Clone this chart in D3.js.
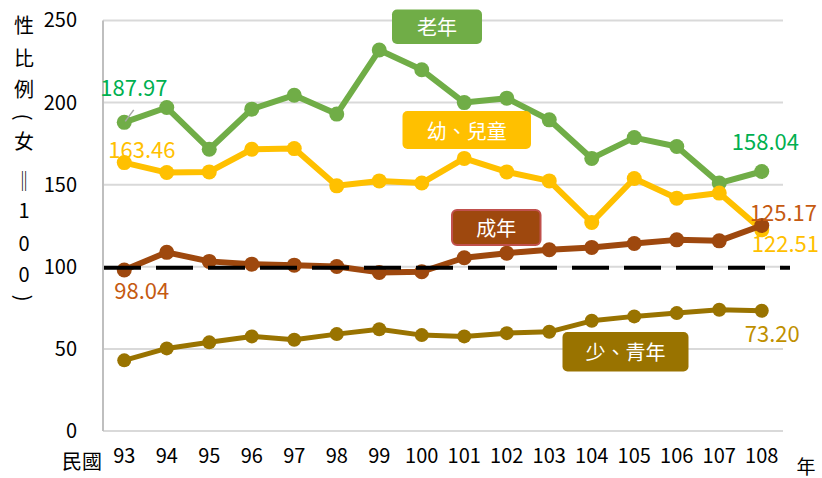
<!DOCTYPE html>
<html>
<head>
<meta charset="utf-8">
<script src="https://cdn.jsdelivr.net/npm/d3@7"></script>
<style>
	body { margin: 0; background: #fff; }
	svg { display: block; font-family: "Noto Sans CJK TC", "Noto Sans", sans-serif; }
</style>
</head>
<body>
<svg id="chart" width="822" height="478"></svg>
<script>
'use strict';

// 民國 93 ~ 108 年
const years = ["93","94","95","96","97","98","99","100","101","102","103","104","105","106","107","108"];
const yTicks = [0, 50, 100, 150, 200, 250];

const elderly = [187.97, 197, 171.6, 196, 204.5, 193, 232, 220, 200, 202.7, 189.5, 166, 178.7, 173.3, 151, 158.04];
const children = [163.46, 157.4, 157.8, 171.6, 172, 149.3, 152.3, 151, 166, 157.8, 152.3, 127, 153.8, 141.8, 144.9, 122.51];
const adults = [98.04, 108.8, 103.3, 101.6, 101, 100.2, 96.6, 97, 105.5, 108.3, 110.4, 111.8, 114.2, 116.4, 115.8, 125.17];
const youth = [43.03, 50.3, 54, 57.6, 55.6, 59, 62, 58.4, 57.6, 59.6, 60.4, 67.1, 69.8, 71.8, 73.8, 73.20];

const seriesNames = ["老年", "幼、兒童", "成年", "少、青年"];
const refValue = 100;

// look of each series (same order as seriesNames)
const lineColors = ["#70AD47", "#FFC000", "#9E480E", "#997300"];
const labelColors = ["#00B050", "#FFC000", "#C55A11", "#BF9000"];
const lineWidths = [6, 6, 6, 5];
const dotRadius = [7.5, 7.5, 7.5, 7];

let svg = d3.select("#chart");

let x = d3.scaleBand()
	.domain(years)
	.range([103, 783]);

let y = d3.scaleLinear()
	.domain([0, 250])
	.range([431, 20.5]);

function cx(i){
	return x(years[i]) + x.bandwidth() / 2;
}

// grid
svg.append("g")
	.selectAll("line")
	.data(yTicks)
	.enter()
	.append("line")
	.attr("x1", 103)
	.attr("x2", 783)
	.attr("y1", function(d){ return y(d); })
	.attr("y2", function(d){ return y(d); })
	.attr("stroke", "#D9D9D9")
	.attr("stroke-width", 2);

svg.append("line")
	.attr("x1", 103).attr("x2", 103)
	.attr("y1", y(250)).attr("y2", y(0))
	.attr("stroke", "#BFBFBF")
	.attr("stroke-width", 2);

// y tick labels
let yAxis = d3.axisLeft(y).tickValues(yTicks).tickSize(0).tickPadding(0);
let gy = svg.append("g")
	.attr("transform", "translate(77,0)")
	.call(yAxis);
gy.select(".domain").remove();
gy.selectAll("text")
	.attr("font-family", "Noto Sans CJK TC")
	.attr("font-size", 20)
	.attr("fill", "#000");

// x tick labels
let xAxis = d3.axisBottom(x).tickSize(0).tickPadding(0);
let gx = svg.append("g")
	.attr("transform", "translate(0,449)")
	.call(xAxis);
gx.select(".domain").remove();
gx.selectAll("text")
	.attr("font-family", "Noto Sans CJK TC")
	.attr("font-size", 20)
	.attr("fill", "#000");

svg.append("text")
	.attr("x", 82).attr("y", 469)
	.attr("text-anchor", "middle")
	.attr("font-size", 20)
	.text("民國");

svg.append("text")
	.attr("x", 806).attr("y", 474)
	.attr("text-anchor", "middle")
	.attr("font-size", 19)
	.text("年");

// y title, stacked one character at a time (brackets turned for vertical text)
const titleChars = ["性", "比", "例", "(", "女", "‖", "1", "0", "0", ")"];
const titleY = [24, 57, 88, 117, 140, 180, 209, 242, 273, 298];
svg.append("g")
	.selectAll("text")
	.data(titleChars)
	.enter()
	.append("text")
	.attr("transform", function(d, i){
		let t = "translate(24," + titleY[i] + ")";
		return (d == "(" || d == ")") ? t + " rotate(90)" : t;
	})
	.attr("dominant-baseline", "central")
	.attr("text-anchor", "middle")
	.attr("font-size", 20)
	.text(function(d){ return d; });

// series
const allSeries = [elderly, children, adults, youth];

let line = d3.line()
	.x(function(d, i){ return cx(i); })
	.y(function(d){ return y(d); });

function drawSeries(k){
	let g = svg.append("g");
	g.append("path")
		.datum(allSeries[k])
		.attr("d", line)
		.attr("fill", "none")
		.attr("stroke", lineColors[k])
		.attr("stroke-width", lineWidths[k])
		.attr("stroke-linejoin", "round");
	g.selectAll("circle")
		.data(allSeries[k])
		.enter()
		.append("circle")
		.attr("cx", function(d, i){ return cx(i); })
		.attr("cy", function(d){ return y(d); })
		.attr("r", dotRadius[k])
		.attr("fill", lineColors[k]);
}

drawSeries(0);
drawSeries(1);
drawSeries(2);

// 100 reference line
svg.append("line")
	.attr("x1", 104).attr("x2", 790)
	.attr("y1", y(refValue) + 1).attr("y2", y(refValue) + 1)
	.attr("stroke", "#000")
	.attr("stroke-width", 4)
	.attr("stroke-dasharray", "37,15");

drawSeries(3);

// first / last value labels: [series, index, dx, dy]
const valueLabels = [
	[0, 0, -24, -26],
	[1, 0, -16, -4.5],
	[2, 0, -10, 29],
	[0, 15, -30, -21.5],
	[2, 15, -12, -4],
	[1, 15, -10, 21.7],
	[3, 15, -17, 31]
];

// small leader from 187.97 to its point
svg.append("line")
	.attr("x1", cx(0) + 1).attr("y1", y(elderly[0]) - 1)
	.attr("x2", cx(0) + 9.5).attr("y2", y(elderly[0]) - 12.5)
	.attr("stroke", "#A6A6A6")
	.attr("stroke-width", 1.5);

svg.append("g")
	.selectAll("text")
	.data(valueLabels)
	.enter()
	.append("text")
	.attr("x", function(d){ return cx(d[1]) + d[2]; })
	.attr("y", function(d){ return y(allSeries[d[0]][d[1]]) + d[3]; })
	.attr("font-size", 22)
	.attr("fill", function(d){ return labelColors[d[0]]; })
	.text(function(d){ return allSeries[d[0]][d[1]].toFixed(2); });

// name boxes: [series, left, top, width, height]
const nameBoxes = [
	[0, 392, 9.5, 90, 34.5],
	[1, 402.5, 111, 128.5, 38],
	[2, 452, 210, 88.5, 35],
	[3, 562.5, 332, 126, 39.5]
];

let boxes = svg.append("g")
	.selectAll("g")
	.data(nameBoxes)
	.enter()
	.append("g");

boxes.append("rect")
	.attr("x", function(d){ return d[1]; })
	.attr("y", function(d){ return d[2]; })
	.attr("width", function(d){ return d[3]; })
	.attr("height", function(d){ return d[4]; })
	.attr("rx", 5)
	.attr("fill", function(d){ return lineColors[d[0]]; })
	.attr("stroke", function(d){ return d[0] == 2 ? "#C0504D" : "none"; })
	.attr("stroke-width", 2);

boxes.append("text")
	.attr("x", function(d){ return d[1] + d[3] / 2; })
	.attr("y", function(d){ return d[2] + d[4] / 2; })
	.attr("dominant-baseline", "central")
	.attr("text-anchor", "middle")
	.attr("font-size", 20)
	.attr("fill", "#fff")
	.text(function(d){ return seriesNames[d[0]]; });
</script>
</body>
</html>
